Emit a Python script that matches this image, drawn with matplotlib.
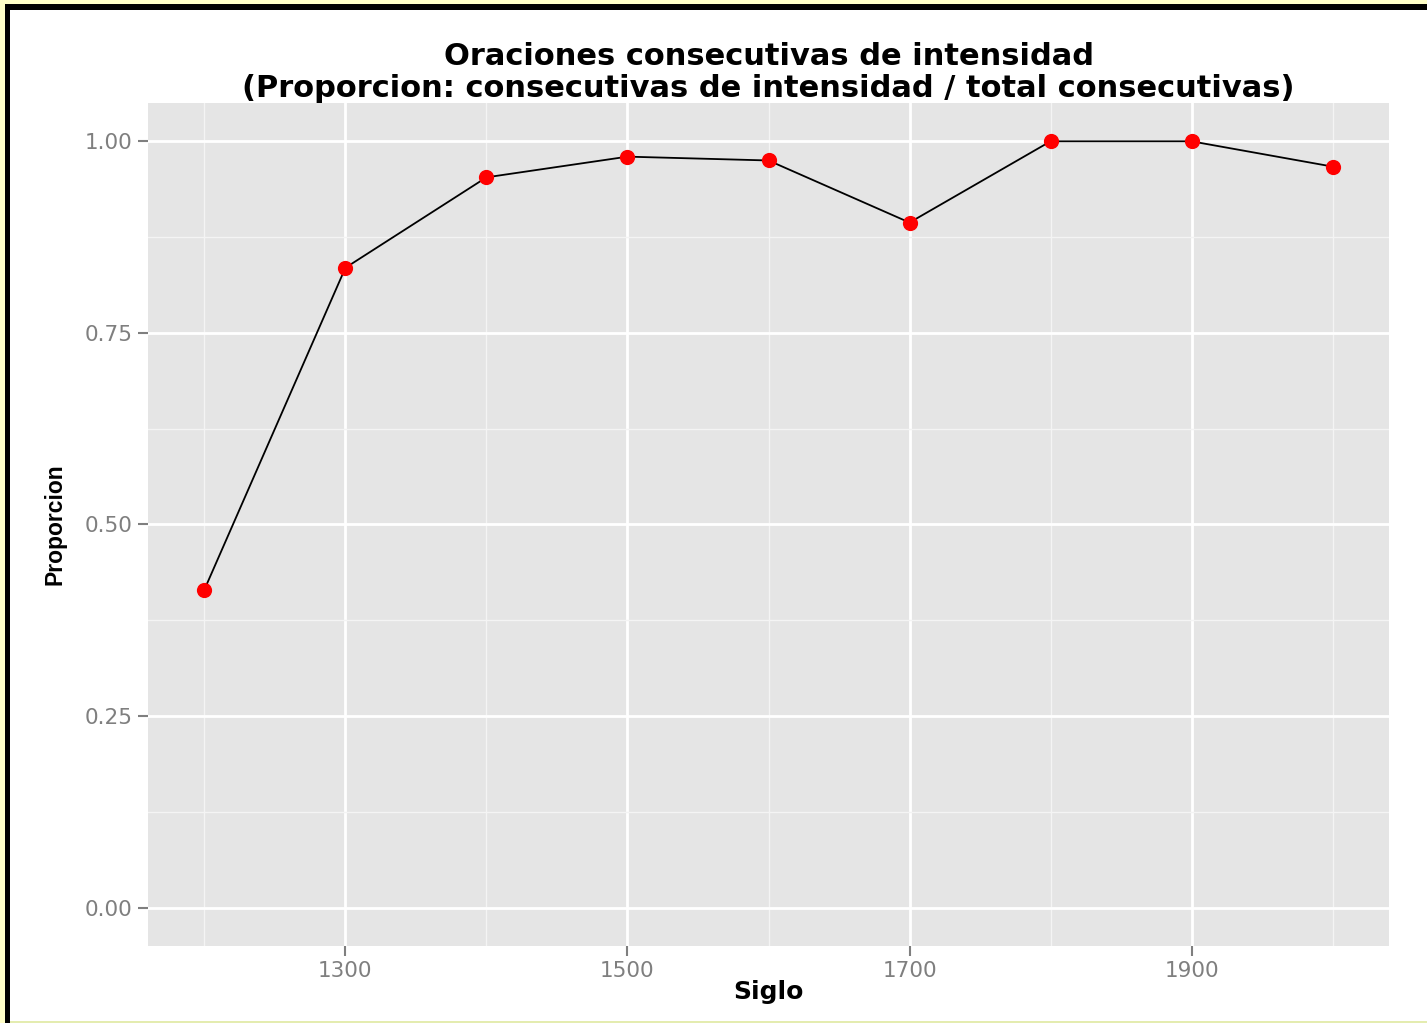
import numpy as np
import matplotlib.pyplot as plt
from matplotlib.ticker import MultipleLocator
import matplotlib.patches as patches

# datos: proporcion de consecutivas de intensidad por siglo
siglo = [1200, 1300, 1400, 1500, 1600, 1700, 1800, 1900, 2000]
proporcion = [0.415, 0.835, 0.953, 0.980, 0.975, 0.894, 1.0, 1.0, 0.967]

xticks = [1300, 1500, 1700, 1900]
yticks = [0.00, 0.25, 0.50, 0.75, 1.00]

plt.rcParams['font.family'] = ['DejaVu Sans']

W, H = 1427, 1023
fig = plt.figure(figsize=(W / 100, H / 100), dpi=100)
fig.patch.set_facecolor('white')


def px_rect(x0, y0, w, h, color):
    # rectangulo en pixeles (origen arriba a la izquierda)
    r = patches.Rectangle((x0 / W, 1 - (y0 + h) / H), w / W, h / H,
                          transform=fig.transFigure, facecolor=color,
                          edgecolor='none', zorder=10)
    fig.add_artist(r)


# marco exterior
px_rect(0, 0, W, 4, '#ffffc8')
px_rect(0, 0, 5, H, '#ffffc8')
px_rect(5, 4, W - 5, 6, 'black')
px_rect(5, 4, 5, H - 4, 'black')
px_rect(10, H - 2, W - 10, 2, '#e4ecb0')

ax = fig.add_axes([148 / W, 1 - 946 / H, (1389 - 148) / W, (946 - 103) / H])
ax.set_facecolor('#e5e5e5')
for s in ax.spines.values():
    s.set_visible(False)

ax.set_xlim(1160, 2040)
ax.set_ylim(-0.05, 1.05)
ax.set_xticks(xticks)
ax.set_yticks(yticks)
ax.set_yticklabels(['%.2f' % v for v in yticks])
ax.xaxis.set_minor_locator(MultipleLocator(100))
ax.yaxis.set_minor_locator(MultipleLocator(0.125))
ax.grid(which='major', color='white', linewidth=2)
ax.grid(which='minor', color='#f4f4f4', linewidth=1)
ax.set_axisbelow(True)
ax.tick_params(which='major', length=7, width=1.5, color='#7f7f7f',
               labelcolor='#7f7f7f', labelsize=15.5, pad=4)
ax.tick_params(which='minor', length=0)

ax.plot(siglo, proporcion, color='black', linewidth=1.3, zorder=3)
ax.scatter(siglo, proporcion, s=120, color='#ff0000', zorder=4, linewidths=0)

ax.set_xlabel('Siglo', fontsize=18, fontweight='bold', labelpad=-1)
ax.set_ylabel('Proporcion', fontsize=16.5, family='Liberation Sans',
              fontweight='bold', labelpad=13)
ax.set_title('Oraciones consecutivas de intensidad\n'
             '(Proporcion: consecutivas de intensidad / total consecutivas)',
             fontsize=22, fontweight='bold', pad=0, linespacing=1.12)

fig.savefig('out.png', dpi=100)
